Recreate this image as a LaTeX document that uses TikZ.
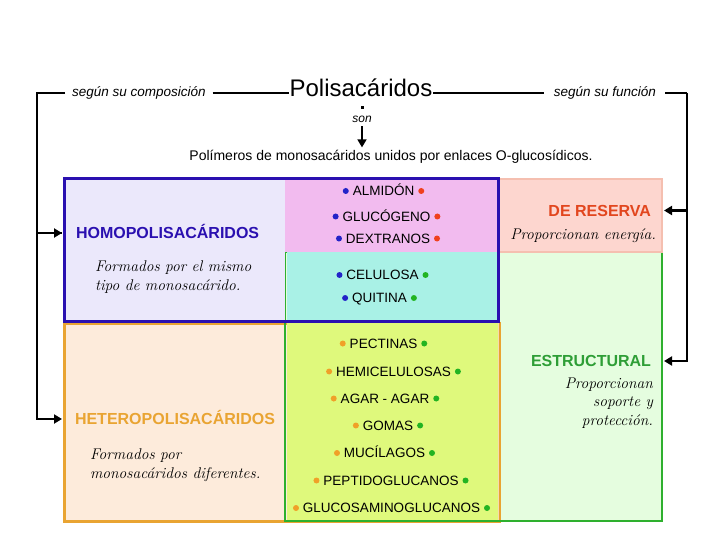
\documentclass[tikz,border=0pt]{standalone}
\usepackage{fontspec}
\setsansfont{Liberation Sans}
\usetikzlibrary{arrows.meta,positioning}
\definecolor{homoblue}{HTML}{2A10B0}
\definecolor{lavfill}{HTML}{EBE8FB}
\definecolor{pinkfill}{HTML}{F2BBEF}
\definecolor{cyanfill}{HTML}{A9F1E6}
\definecolor{resfill}{HTML}{FDD6CF}
\definecolor{resborder}{HTML}{F5BFB0}
\definecolor{restitle}{HTML}{E2461E}
\definecolor{estfill}{HTML}{E5FDDF}
\definecolor{estgreen}{HTML}{2EB02E}
\definecolor{esttitle}{HTML}{2E9E36}
\definecolor{hetfill}{HTML}{FDEBDB}
\definecolor{hetborder}{HTML}{E9A432}
\definecolor{yelfill}{HTML}{DFF97C}
\definecolor{dblue}{HTML}{2323C8}
\definecolor{dred}{HTML}{F0401E}
\definecolor{dgreen}{HTML}{22B422}
\definecolor{dorange}{HTML}{F0A028}
\begin{document}
\begin{tikzpicture}[x=1pt,y=-1pt,
  every node/.style={inner sep=0pt,outer sep=0pt},
  region/.style={anchor=north west,rectangle},
  itm/.style={font=\sffamily\fontsize{13.5}{15}\selectfont,text height=9.6pt,text depth=0pt},
  dotn/.style={circle,minimum size=6pt},
  ttl/.style={font=\sffamily\bfseries\fontsize{16}{18}\selectfont,text height=11.5pt,text depth=0pt},
  desc/.style={font=\itshape\fontsize{15.5}{18.5}\selectfont},
  topl/.style={font=\sffamily\itshape\fontsize{13.5}{15}\selectfont},
  brk/.style={line width=2.5pt},
  thinl/.style={line width=1.6pt},
  tip/.style={-{Triangle[length=8pt,width=9pt]}}]
\useasboundingbox (0,0) rectangle (720,540);
% regions
\node[region,fill=estfill,minimum width=377pt,minimum height=269pt] (estbox) at (285,252) {};
\node[region,fill=hetfill,draw=hetborder,line width=3pt,minimum width=435pt,minimum height=198pt] (hetbox) at (64,323) {};
\node[region,fill=yelfill,minimum width=212pt,minimum height=197pt] (yelbox) at (286.5,323) {};
\draw[hetborder!40,line width=1.5pt] (yelbox.north east) -- (yelbox.south east);
\node[region,draw=estgreen,line width=2.5pt,minimum width=377pt,minimum height=269pt] (estframe) at (285,252) {};
\node[region,fill=lavfill,minimum width=221pt,minimum height=142pt] (lavbox) at (64,179) {};
\node[region,fill=pinkfill,minimum width=213pt,minimum height=73pt] (pinkbox) at (285,179) {};
\node[region,fill=cyanfill,minimum width=211.5pt,minimum height=69pt] (cyanbox) at (286.5,252) {};
\node[region,fill=resfill,draw=resborder,line width=1.5pt,minimum width=163pt,minimum height=73pt] (resbox) at (499,179) {};
\node[region,draw=homoblue,line width=3pt,minimum width=434pt,minimum height=142pt] (homobox) at (64,179) {};
% titles and descriptions
\node[ttl,text=homoblue,anchor=west] (homot) at (76,233) {HOMOPOLISACÁRIDOS};
\node[desc,anchor=base west,align=left] (homod) at (95,290) {Formados por el mismo\\tipo de monosacárido.};
\node[ttl,text=hetborder,anchor=west] (hett) at (75,419) {HETEROPOLISACÁRIDOS};
\node[desc,anchor=base west,align=left] (hetd) at (90,478) {Formados por\\monosacáridos diferentes.};
\node[ttl,text=restitle,anchor=east] (rest) at (651,210.5) {DE RESERVA};
\node[desc,anchor=base east] (resd) at (656,240) {Proporcionan energía.};
\node[ttl,text=esttitle,anchor=east] (estt) at (651,361) {ESTRUCTURAL};
\node[desc,anchor=base east,align=right] (estd) at (653,425) {Proporcionan\\soporte y\\protección.};
% items
\foreach \nm/\x/\y/\txt/\lc/\rc in {
  almidon/383.5/191/ALMIDÓN/dblue/dred,
  glucogeno/386.5/216.5/GLUCÓGENO/dblue/dred,
  dextranos/388/238.5/DEXTRANOS/dblue/dred,
  celulosa/382.5/275/CELULOSA/dblue/dgreen,
  quitina/379.5/298/QUITINA/dblue/dgreen,
  pectinas/383.5/343.5/PECTINAS/dorange/dgreen,
  hemicel/393.5/371.5/HEMICELULOSAS/dorange/dgreen,
  agar/385/398.5/AGAR - AGAR/dorange/dgreen,
  gomas/388/425.5/GOMAS/dorange/dgreen,
  mucilagos/384.5/453/MUCÍLAGOS/dorange/dgreen,
  peptido/391/480.5/PEPTIDOGLUCANOS/dorange/dgreen,
  glucosamino/391.5/508/GLUCOSAMINOGLUCANOS/dorange/dgreen}{
  \node[itm] (\nm) at (\x,\y) {\txt};
  \node[dotn,fill=\lc,left=4pt of \nm] (\nm L) {};
  \node[dotn,fill=\rc,right=4pt of \nm] (\nm R) {};
}
% top line
\node[font=\sffamily\fontsize{24}{26}\selectfont,anchor=base] (polis) at (361,97) {Polisacáridos};
\node[topl,anchor=base west] (comp) at (72,97) {según su composición};
\node[topl,anchor=base east] (func) at (656,97) {según su función};
\coordinate (lc) at (37,93);
\coordinate (rc) at (687,93);
\draw[thinl] ([xshift=7pt]comp.east |- lc) -- ([xshift=-1pt]polis.west |- lc);
\draw[thinl] ([xshift=1pt]polis.east |- lc) -- ([xshift=-10pt]func.west |- lc);
\draw[brk] ([xshift=-7pt]comp.west |- lc) -- (lc) |- ([xshift=-2pt]homobox.west |- homot.west);
\draw[brk,tip] (lc) |- ([xshift=-2pt]homobox.west |- homot.west);
\draw[brk,tip] (lc) |- ([xshift=-2pt]hetbox.west |- hett.west);
\draw[brk] ([xshift=9pt]func.east |- rc) -- (rc);
\draw[brk,tip] (rc) |- ([xshift=2pt]resbox.east |- rest.east);
\draw[brk,tip] (rc) |- ([xshift=2pt]estframe.east |- estt.east);
% son
\node[font=\sffamily\itshape\fontsize{12}{14}\selectfont] (son) at (362,119) {son};
\node[font=\sffamily\fontsize{14}{16}\selectfont] (polim) at (391,157) {Polímeros de monosacáridos unidos por enlaces O-glucosídicos.};
\fill ([xshift=-1.5pt]son.north |- 0,106.5) rectangle ([xshift=1.5pt]son.north |- 0,109.5);
\draw[thinl,tip] ([yshift=-4pt]son.south) -- ([yshift=3pt]polim.north -| son.south);
\end{tikzpicture}
\end{document}
